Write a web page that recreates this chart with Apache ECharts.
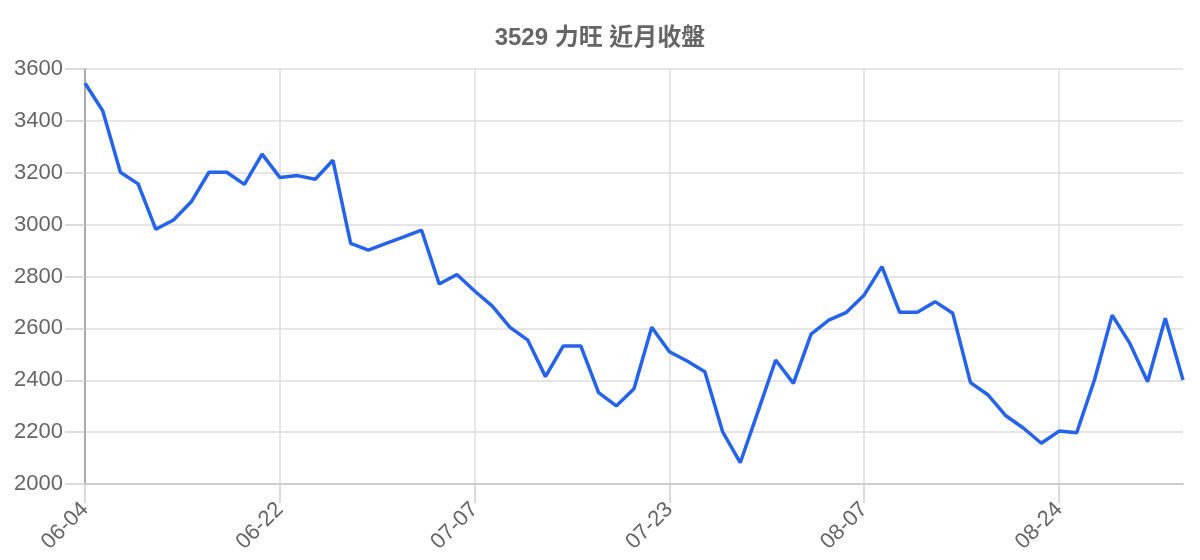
<!DOCTYPE html>
<html>
<head>
<meta charset="utf-8">
<script src="https://cdn.jsdelivr.net/npm/echarts@6/dist/echarts.min.js"></script>
<style>
  html, body { margin: 0; padding: 0; background: #fff; }
  #main { width: 1200px; height: 560px; }
</style>
</head>
<body>
<div id="main"></div>
<script>
var dates = [
  '06-04', '06-05', '06-06', '06-07', '06-10', '06-11', '06-12', '06-13', '06-14', '06-17', '06-19',
  '06-22', '06-23', '06-24', '06-25', '06-26', '06-28', '06-29', '07-01', '07-02', '07-03', '07-05',
  '07-07', '07-08', '07-09', '07-10', '07-12', '07-14', '07-15', '07-16', '07-18', '07-19', '07-21',
  '07-23', '07-24', '07-25', '07-26', '07-28', '07-29', '07-30', '07-31', '08-02', '08-04', '08-06',
  '08-07', '08-08', '08-09', '08-11', '08-12', '08-13', '08-15', '08-16', '08-18', '08-20', '08-22',
  '08-24', '08-25', '08-26', '08-27', '08-29', '08-30', '09-01', '09-02'
];

var closes = [
  3545, 3439, 3202, 3157, 2982, 3018, 3088, 3202, 3202, 3155, 3272,
  3182, 3189, 3175, 3248, 2928, 2902, 2928, 2953, 2979, 2771, 2808,
  2744, 2686, 2604, 2555, 2414, 2532, 2532, 2352, 2301, 2367, 2604,
  2510, 2474, 2433, 2202, 2082, 2279, 2478, 2388, 2578, 2632, 2662,
  2729, 2838, 2662, 2662, 2703, 2658, 2391, 2343, 2263, 2215, 2157,
  2204, 2198, 2401, 2651, 2542, 2394, 2639, 2401
];

var chart = echarts.init(document.getElementById('main'));

var gridColor = '#dcdcdc';
var textColor = '#666';
var fontFamily = '"Liberation Sans", Arial, "Noto Sans CJK TC", sans-serif';

var option = {
  animation: false,
  title: {
    text: '3529 力旺 近月收盤',
    left: 'center',
    top: 21,
    textStyle: {
      color: textColor,
      fontSize: 24,
      fontWeight: 'bold',
      fontFamily: '"Liberation Sans", "Noto Sans CJK TC", sans-serif'
    }
  },
  grid: {
    left: 85,
    right: 17,
    top: 69,
    bottom: 76
  },
  xAxis: {
    type: 'category',
    data: dates,
    boundaryGap: false,
    axisLine: { show: true, lineStyle: { color: '#cccccc', width: 2 } },
    axisTick: { show: true, interval: 10, length: 19, lineStyle: { color: '#d0d0d0', width: 1.5 } },
    splitLine: { show: true, interval: 10, lineStyle: { color: gridColor, width: 1.5 } },
    axisLabel: {
      interval: 10,
      rotate: 45,
      margin: 22,
      color: textColor,
      fontSize: 22,
      fontFamily: fontFamily
    }
  },
  yAxis: {
    type: 'value',
    min: 2000,
    max: 3600,
    interval: 200,
    axisLine: { show: true, onZero: false, lineStyle: { color: '#aaaaaa', width: 2 } },
    axisTick: { show: true, inside: false, length: 20, lineStyle: { color: '#d0d0d0', width: 1.5 } },
    splitLine: { show: true, lineStyle: { color: gridColor, width: 1.5 } },
    axisLabel: {
      margin: 22,
      color: textColor,
      fontSize: 22,
      fontFamily: fontFamily,
      formatter: function (v) { return String(v); }
    }
  },
  series: [{
    type: 'line',
    data: closes,
    showSymbol: false,
    symbol: 'none',
    lineStyle: { color: '#2563eb', width: 3.5 },
    itemStyle: { color: '#2563eb' }
  }]
};

chart.setOption(option);
</script>
</body>
</html>
